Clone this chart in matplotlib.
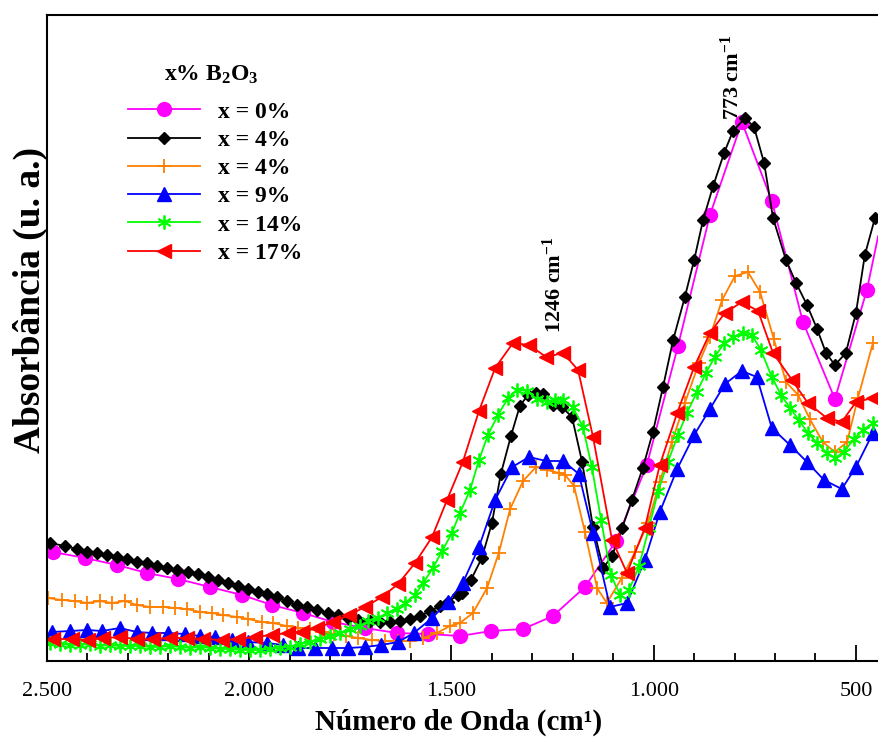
import matplotlib
matplotlib.use("Agg")
import matplotlib.pyplot as plt

plt.rcParams['font.family'] = ['Liberation Serif', 'DejaVu Serif']
plt.rcParams['mathtext.fontset'] = 'custom'
plt.rcParams['mathtext.rm'] = 'Liberation Serif:bold'
plt.rcParams['mathtext.bf'] = 'Liberation Serif:bold'
plt.rcParams['mathtext.it'] = 'Liberation Serif:bold'

# ---------------- data (wavenumber cm^-1, absorbance a.u.) ----------------
w_pink = [2485, 2406, 2327, 2253, 2176, 2097, 2018, 1944, 1867, 1793, 1714, 1635,
          1558, 1479, 1402, 1323, 1249, 1170, 1093, 1017, 940, 861, 782, 708, 631,
          552, 473, 445]
a_pink = [0.106, 0.100, 0.093, 0.085, 0.079, 0.071, 0.063, 0.053, 0.045, 0.036, 0.030,
          0.025, 0.024, 0.022, 0.027, 0.029, 0.042, 0.071, 0.117, 0.193, 0.312, 0.443,
          0.536, 0.457, 0.336, 0.259, 0.368, 0.422]

w_black = [2493, 2455, 2426, 2401, 2376, 2352, 2327, 2302, 2278, 2253, 2228, 2203,
           2179, 2151, 2127, 2102, 2077, 2053, 2028, 2003, 1979, 1956, 1932, 1907,
           1882, 1858, 1833, 1805, 1781, 1756, 1731, 1701, 1677, 1652, 1627, 1603,
           1578, 1553, 1528, 1509, 1484, 1474, 1452, 1425, 1400, 1378, 1353, 1331,
           1311, 1291, 1274, 1249, 1227, 1202, 1177, 1150, 1125, 1103, 1078, 1054,
           1027, 1002, 977, 952, 923, 900, 878, 853, 826, 804, 774, 752, 727, 705,
           673, 648, 621, 596, 574, 552, 525, 500, 478, 453]
a_black = [0.115, 0.112, 0.109, 0.106, 0.105, 0.103, 0.101, 0.099, 0.096, 0.095,
           0.092, 0.090, 0.088, 0.086, 0.084, 0.081, 0.078, 0.075, 0.072, 0.069,
           0.066, 0.064, 0.061, 0.057, 0.053, 0.051, 0.048, 0.045, 0.043, 0.040,
           0.038, 0.037, 0.036, 0.036, 0.037, 0.039, 0.042, 0.047, 0.052, 0.056,
           0.063, 0.065, 0.078, 0.100, 0.135, 0.184, 0.222, 0.252, 0.263, 0.265,
           0.264, 0.253, 0.251, 0.241, 0.196, 0.131, 0.090, 0.102, 0.130, 0.158,
           0.190, 0.226, 0.271, 0.318, 0.361, 0.398, 0.438, 0.472, 0.505, 0.527,
           0.540, 0.531, 0.495, 0.440, 0.398, 0.375, 0.353, 0.329, 0.305, 0.293,
           0.305, 0.345, 0.403, 0.440]

w_orange = [2498, 2463, 2431, 2401, 2369, 2339, 2307, 2278, 2245, 2213, 2184, 2154,
            2122, 2092, 2065, 2030, 2003, 1968, 1941, 1907, 1879, 1850, 1820, 1790,
            1761, 1731, 1697, 1664, 1632, 1603, 1570, 1536, 1504, 1479, 1447, 1412,
            1383, 1355, 1323, 1291, 1264, 1234, 1219, 1197, 1170, 1140, 1116, 1079,
            1046, 1014, 985, 955, 923, 888, 861, 831, 799, 767, 737, 703, 673, 643,
            614, 582, 552, 522, 495, 458]
a_orange = [0.060, 0.058, 0.057, 0.055, 0.057, 0.055, 0.057, 0.053, 0.051, 0.051,
            0.050, 0.049, 0.046, 0.045, 0.043, 0.041, 0.039, 0.036, 0.035, 0.032,
            0.030, 0.029, 0.026, 0.024, 0.022, 0.020, 0.018, 0.017, 0.017, 0.017,
            0.020, 0.025, 0.032, 0.035, 0.045, 0.070, 0.105, 0.149, 0.177, 0.191,
            0.188, 0.185, 0.183, 0.172, 0.126, 0.070, 0.055, 0.080, 0.106, 0.135,
            0.176, 0.216, 0.255, 0.295, 0.321, 0.358, 0.382, 0.386, 0.366, 0.319,
            0.276, 0.263, 0.239, 0.216, 0.206, 0.216, 0.260, 0.315]

w_blue = [2488, 2443, 2401, 2364, 2320, 2278, 2240, 2201, 2159, 2122, 2085, 2043,
          2003, 1956, 1917, 1879, 1837, 1795, 1756, 1714, 1674, 1632, 1593, 1548,
          1509, 1472, 1432, 1392, 1350, 1308, 1266, 1224, 1185, 1150, 1108, 1066,
          1022, 985, 942, 900, 861, 824, 782, 745, 708, 663, 621, 579, 535, 500, 458]
a_blue = [0.026, 0.027, 0.028, 0.027, 0.030, 0.026, 0.025, 0.025, 0.024, 0.022,
          0.021, 0.018, 0.016, 0.015, 0.013, 0.010, 0.010, 0.010, 0.010, 0.011,
          0.013, 0.016, 0.025, 0.040, 0.056, 0.075, 0.111, 0.158, 0.191, 0.201,
          0.197, 0.197, 0.184, 0.125, 0.051, 0.055, 0.098, 0.146, 0.189, 0.223,
          0.249, 0.274, 0.287, 0.281, 0.230, 0.213, 0.196, 0.178, 0.169, 0.191, 0.225]

w_green = [2493, 2468, 2443, 2418, 2394, 2369, 2344, 2320, 2295, 2270, 2245, 2221,
           2196, 2171, 2146, 2122, 2097, 2072, 2048, 2023, 1998, 1973, 1949, 1924,
           1899, 1875, 1850, 1825, 1800, 1776, 1751, 1726, 1706, 1682, 1659, 1635,
           1615, 1590, 1570, 1546, 1523, 1499, 1479, 1454, 1432, 1410, 1385, 1360,
           1338, 1313, 1289, 1264, 1244, 1224, 1200, 1175, 1153, 1130, 1106, 1083,
           1061, 1036, 1012, 989, 965, 940, 918, 893, 871, 849, 826, 804, 779, 757,
           735, 708, 685, 663, 641, 619, 596, 572, 552, 530, 505, 483, 458]
a_green = [0.015, 0.014, 0.013, 0.013, 0.014, 0.012, 0.013, 0.012, 0.012, 0.012,
           0.011, 0.011, 0.012, 0.011, 0.010, 0.011, 0.010, 0.009, 0.009, 0.008,
           0.008, 0.008, 0.009, 0.010, 0.011, 0.014, 0.016, 0.019, 0.022, 0.025,
           0.029, 0.032, 0.037, 0.040, 0.045, 0.049, 0.055, 0.063, 0.075, 0.090,
           0.107, 0.125, 0.145, 0.168, 0.198, 0.223, 0.243, 0.260, 0.268, 0.267,
           0.259, 0.256, 0.258, 0.258, 0.251, 0.231, 0.191, 0.138, 0.083, 0.063,
           0.068, 0.092, 0.130, 0.167, 0.196, 0.223, 0.245, 0.266, 0.285, 0.301,
           0.315, 0.321, 0.325, 0.323, 0.308, 0.281, 0.263, 0.250, 0.238, 0.225,
           0.215, 0.205, 0.200, 0.206, 0.219, 0.228, 0.235]

w_red = [2485, 2438, 2399, 2362, 2320, 2278, 2238, 2196, 2154, 2114, 2067, 2028,
         1986, 1944, 1904, 1870, 1833, 1793, 1753, 1714, 1672, 1632, 1590, 1548,
         1511, 1472, 1432, 1392, 1348, 1308, 1266, 1224, 1187, 1150, 1103, 1066,
         1022, 985, 942, 900, 861, 824, 782, 742, 705, 658, 619, 572, 535, 500, 458]
a_red = [0.019, 0.019, 0.018, 0.020, 0.021, 0.019, 0.019, 0.020, 0.020, 0.019,
         0.018, 0.019, 0.021, 0.023, 0.025, 0.026, 0.030, 0.036, 0.043, 0.051,
         0.061, 0.074, 0.095, 0.121, 0.158, 0.196, 0.247, 0.290, 0.315, 0.313,
         0.301, 0.305, 0.288, 0.221, 0.118, 0.085, 0.130, 0.193, 0.245, 0.291,
         0.325, 0.345, 0.356, 0.347, 0.305, 0.278, 0.255, 0.240, 0.236, 0.256, 0.260]

labels = ['x = 0%', 'x = 4%', 'x = 4%', 'x = 9%', 'x = 14%', 'x = 17%']
legend_title = r'x% B$_\mathbf{2}$O$_\mathbf{3}$'
xtick_vals = [2500, 2000, 1500, 1000, 500]
xtick_labels = ['2.500', '2.000', '1.500', '1.000', '500']

# ---------------- figure ----------------
fig = plt.figure(figsize=(8.79, 7.40), dpi=100)
ax = fig.add_axes([47/879, 1-661/740, (879-47)/879, (661-15)/740])

lw = 1.3
ax.plot(w_pink, a_pink, color='#FF00FF', lw=lw, marker='o', ms=10, mec='#FF00FF',
        markevery=slice(0, len(w_pink)-1), label=labels[0])
ax.plot(w_black, a_black, color='black', lw=lw, marker='D', ms=6.5, label=labels[1])
ax.plot(w_orange, a_orange, color='#FF8000', lw=lw, marker='+', ms=10, mew=1.3,
        label=labels[2])
ax.plot(w_blue, a_blue, color='#0000FF', lw=lw, marker='^', ms=9.5, label=labels[3])
ax.plot(w_green, a_green, color='#00FF00', lw=lw, marker=(6, 2, 0), ms=10, mew=1.3,
        label=labels[4])
ax.plot(w_red, a_red, color='#FF0000', lw=lw, marker='<', ms=10, label=labels[5])

ax.set_xlim(2500, 443)
ax.set_ylim(-0.003, 0.643)
ax.set_yticks([])
ax.set_xticks(xtick_vals)
ax.set_xticklabels(xtick_labels, fontsize=16)
ax.set_xticks(list(range(2400, 443, -100)), minor=True)
ax.tick_params(axis='x', which='major', direction='in', length=11.5, width=1.3, pad=15)
ax.tick_params(axis='x', which='minor', direction='in', length=5.8, width=1.3)
for s in ['left', 'bottom', 'top']:
    ax.spines[s].set_linewidth(1.5)
ax.spines['right'].set_visible(False)

ax.set_xlabel('Número de Onda (cm¹)', fontsize=21, fontweight='bold', va='center')
ax.xaxis.set_label_coords((459-47)/832, (661-722)/646)
ax.set_ylabel('Absorbância (u. a.)', fontsize=27, fontweight='bold', va='center')
ax.yaxis.set_label_coords((30-47)/832, (661-300)/646)

ax.text(1246, 0.373, r'1246 cm$^{\mathbf{-1}}$', rotation=90, ha='center', va='center',
        fontsize=16, fontweight='bold')
ax.text(806, 0.581, r'773 cm$^{\mathbf{-1}}$', rotation=90, ha='center', va='center',
        fontsize=16, fontweight='bold')

ax.text((211-47)/832, (661-75)/646, legend_title, transform=ax.transAxes,
        ha='center', va='center', fontsize=17, fontweight='bold')
leg = ax.legend(loc='upper left', bbox_to_anchor=((128-47)/832, (661-101)/646),
                frameon=False, numpoints=1,
                handlelength=3.05, handletextpad=0.76, labelspacing=0.285,
                borderpad=0, borderaxespad=0,
                prop={'weight': 'bold', 'size': 17})

fig.savefig('out.png', dpi=100)
